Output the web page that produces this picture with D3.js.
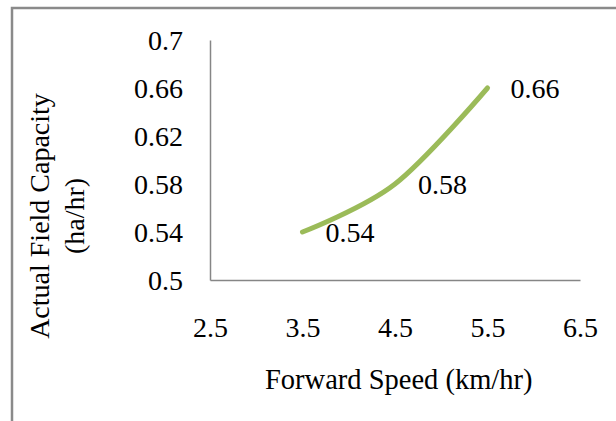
<!DOCTYPE html>
<html>
<head>
<meta charset="utf-8">
<script src="https://cdn.jsdelivr.net/npm/d3@7"></script>
<style>
  body { margin: 0; background: #fff; }
  svg { display: block; font-family: "Liberation Serif", "Times New Roman", serif; }
</style>
</head>
<body>
<svg width="616" height="421"></svg>
<script>
// data
const speeds = [3.5, 4.5, 5.5];
const capacity = [0.54, 0.58, 0.66];
const xTicks = [2.5, 3.5, 4.5, 5.5, 6.5];
const yTicks = [0.5, 0.54, 0.58, 0.62, 0.66, 0.7];

const points = speeds.map((s, i) => ({ x: s, y: capacity[i] }));

var svg = d3.select("svg");

// chart frame, runs off the right and bottom edges
svg.append("rect")
    .attr("x", 12)
    .attr("y", 8)
    .attr("width", 640)
    .attr("height", 440)
    .attr("fill", "none")
    .attr("stroke", "#8a8a8a")
    .attr("stroke-width", 2.5);

const x = d3.scaleLinear().domain([2.5, 6.5]).range([210, 580]);
const y = d3.scaleLinear().domain([0.5, 0.7]).range([280, 40]);

const xAxis = svg.append("g")
    .attr("transform", "translate(0,280)")
    .call(d3.axisBottom(x).tickValues(xTicks).tickSize(0).tickPadding(57).tickFormat(d3.format(".1f")));

const yAxis = svg.append("g")
    .attr("transform", "translate(210,0)")
    .call(d3.axisLeft(y).tickValues(yTicks).tickSize(0).tickPadding(27).tickFormat(d => d === 0.5 || d === 0.7 ? d.toFixed(1) : d.toFixed(2)));

[xAxis, yAxis].forEach(g => {
    g.select(".domain").attr("stroke", "#868686").attr("stroke-width", 1.5);
    g.selectAll("text")
        .attr("fill", "#000")
        .style("font-size", "28px")
        .style("font-family", "'Liberation Serif', 'Times New Roman', serif");
});
yAxis.selectAll("text").attr("dy", "0.34em");
xAxis.selectAll("text").attr("dy", "0");

// smoothed line like the spreadsheet one
const line = d3.line()
    .x(d => x(d.x))
    .y(d => y(d.y))
    .curve(d3.curveCatmullRom.alpha(0));

svg.append("path")
    .datum(points)
    .attr("d", line)
    .attr("fill", "none")
    .attr("stroke", "#9bbb59")
    .attr("stroke-width", 5)
    .attr("stroke-linecap", "round");

svg.append("g")
    .selectAll("text")
    .data(points)
    .join("text")
    .attr("x", d => x(d.x) + 23)
    .attr("y", d => y(d.y))
    .attr("dy", "0.34em")
    .style("font-size", "28px")
    .text(d => d.y.toFixed(2));

// axis titles
svg.append("text")
    .attr("x", 265)
    .attr("y", 389)
    .style("font-size", "28.5px")
    .text("Forward Speed (km/hr)");

const yTitle = svg.append("text")
    .attr("transform", "translate(49,216) rotate(-90)")
    .attr("text-anchor", "middle")
    .style("font-size", "28px");
yTitle.append("tspan").attr("x", 0).attr("y", 0).text("Actual Field Capacity");
yTitle.append("tspan").attr("x", 0).attr("y", 35).text("(ha/hr)");
</script>
</body>
</html>
